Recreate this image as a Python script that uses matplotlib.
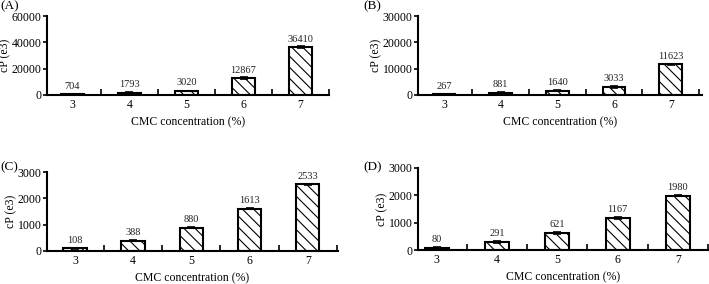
import numpy as np
import matplotlib.pyplot as plt

plt.rcParams['font.family'] = ['Liberation Serif', 'DejaVu Serif']
plt.rcParams['hatch.linewidth'] = 0.8
plt.rcParams['hatch.color'] = '#333333'

# CMC concentration categories
conc = [3, 4, 5, 6, 7]

# viscosity values (cP, e3) per panel
visc_a = [704, 1793, 3020, 12867, 36410]
visc_b = [267, 881, 1640, 3033, 11623]
visc_c = [108, 388, 880, 1613, 2533]
visc_d = [80, 291, 621, 1167, 1980]

# rough error bars (small)
err_a = [300, 400, 300, 600, 500]
err_b = [100, 300, 200, 200, 300]
err_c = [20, 20, 20, 20, 30]
err_d = [40, 20, 20, 40, 20]

ytick_a = [0, 20000, 40000, 60000]
ytick_b = [0, 10000, 20000, 30000]
ytick_c = [0, 1000, 2000, 3000]
ytick_d = [0, 1000, 2000, 3000]

fig = plt.figure(figsize=(7.09, 2.84), dpi=100)

panels = [
    ("(A)", visc_a, err_a, ytick_a, [0.0663, 0.6655, 0.398, 0.278], (2.56, 7.5), (0.001, 0.955)),
    ("(B)", visc_b, err_b, ytick_b, [0.5896, 0.6655, 0.4004, 0.278], (2.54, 7.55), (0.512, 0.955)),
    ("(C)", visc_c, err_c, ytick_c, [0.0663, 0.1162, 0.4104, 0.278], (2.52, 7.52), (0.001, 0.39)),
    ("(D)", visc_d, err_d, ytick_d, [0.5896, 0.1197, 0.409, 0.289], (2.69, 7.43), (0.512, 0.39)),
]

for label, vals, errs, yticks, pos, xl, lpos in panels:
    ax = fig.add_axes(pos)
    ax.bar(conc, vals, width=0.4, color='white', edgecolor='black',
           linewidth=1.5, hatch='\\\\\\')
    ax.errorbar(conc, vals, yerr=errs, fmt='none', ecolor='black',
                elinewidth=1.2, capsize=3, capthick=1.2)
    top = yticks[-1]
    for x, v in zip(conc, vals):
        ax.text(x, v + top * 0.045, str(v), ha='center', va='bottom',
                fontsize=7.5, color='#222222')
    ax.set_xlim(*xl)
    ax.set_ylim(0, top)
    ax.set_yticks(yticks)
    ax.set_xticks(conc)
    ax.set_xticks([3.5, 4.5, 5.5, 6.5, 7.5], minor=True)
    ax.tick_params(axis='x', which='major', length=0, labelsize=8.5, pad=3)
    ax.tick_params(axis='x', which='minor', direction='in', length=4, width=1.2)
    ax.tick_params(axis='y', direction='out', length=3, width=1.2, labelsize=8.5, pad=1)
    for s in ['top', 'right']:
        ax.spines[s].set_visible(False)
    for s in ['left', 'bottom']:
        ax.spines[s].set_linewidth(1.5)
    ax.set_xlabel("CMC concentration (%)", fontsize=8.5, labelpad=4)
    ax.set_ylabel("cP (e3)", fontsize=8.5, labelpad=0)
    fig.text(lpos[0], lpos[1], label, fontsize=9.5, ha='left', va='bottom')

plt.savefig("out.png", dpi=100)
